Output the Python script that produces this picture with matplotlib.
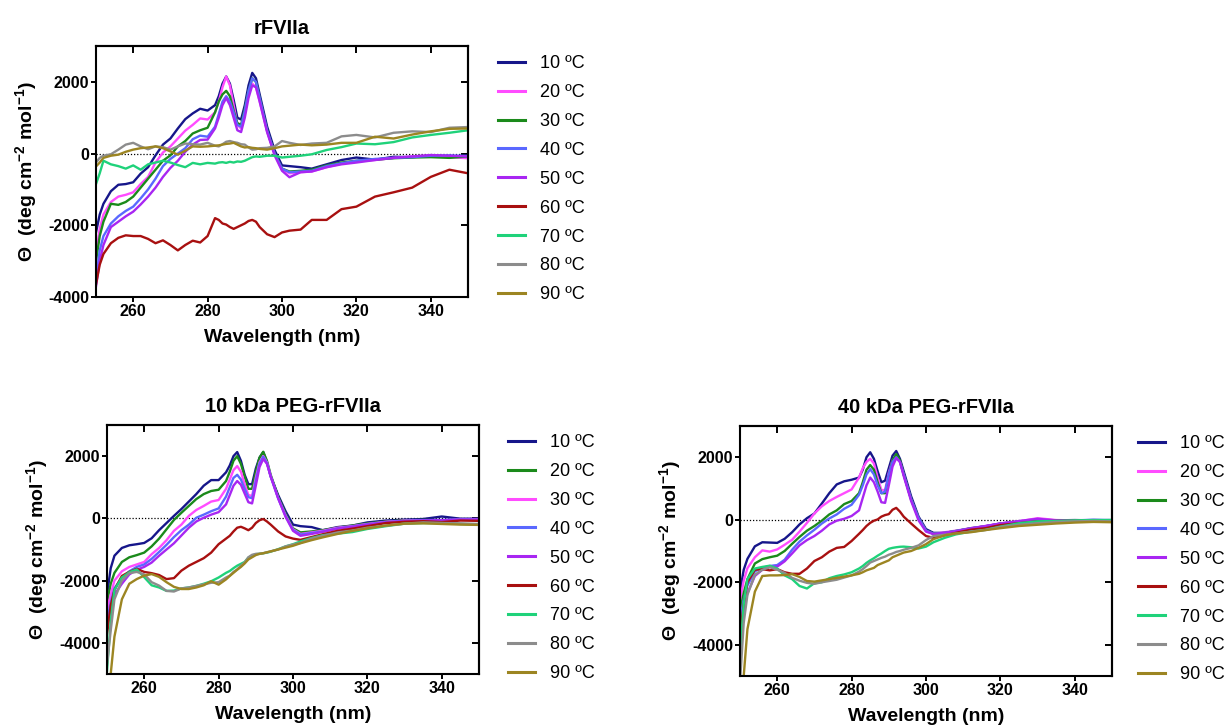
import matplotlib
matplotlib.use("Agg")
import matplotlib.pyplot as plt

plt.rcParams['font.family'] = ['Liberation Sans', 'DejaVu Sans']
plt.rcParams['mathtext.fontset'] = 'custom'
plt.rcParams['mathtext.rm'] = 'Liberation Sans'
plt.rcParams['mathtext.bf'] = 'Liberation Sans:bold'
plt.rcParams['axes.unicode_minus'] = False

# --------------------
# Data
# --------------------
wl = [250, 251, 252, 254, 256, 258, 260, 262, 264, 266, 268, 270, 272, 274, 276, 278, 280, 282,
      283, 284, 285, 286, 287, 288, 289, 290, 291, 292, 293, 294, 296, 298, 300, 302, 305, 308,
      312, 316, 320, 325, 330, 335, 340, 345, 350]

temps = [10, 20, 30, 40, 50, 60, 70, 80, 90]

# rFVIIa
p1_10 = [-2200, -1700, -1400, -1050, -870, -850, -800, -560, -380, -50, 250, 420, 700, 960, 1120, 1250, 1200, 1350,
         1600, 1950, 2150, 1950, 1500, 1000, 950, 1350, 1900, 2250, 2100, 1650, 750, 100, -330, -350, -380, -420,
         -300, -180, -110, -170, -90, -100, -60, -90, -50]
p1_20 = [-2800, -2100, -1700, -1350, -1200, -1150, -1080, -850, -650, -250, 30, 200, 420, 640, 800, 980, 950, 1150,
         1450, 1850, 2150, 1900, 1350, 800, 700, 1150, 1650, 1950, 1850, 1450, 600, 0, -450, -550, -520, -500,
         -380, -280, -220, -180, -120, -80, -60, -100, -130]
p1_30 = [-3000, -2300, -1900, -1400, -1430, -1350, -1200, -950, -700, -450, -200, -50, 200, 350, 560, 650, 720, 1150,
         1450, 1650, 1750, 1600, 1200, 850, 800, 1250, 1750, 2100, 2000, 1550, 650, 0, -420, -500, -480, -450,
         -330, -250, -200, -170, -130, -110, -100, -120, -80]
p1_40 = [-3500, -2700, -2300, -1950, -1750, -1600, -1480, -1250, -1000, -700, -350, -150, 0, 150, 400, 500, 470, 750,
         1100, 1450, 1600, 1450, 1150, 800, 750, 1200, 1750, 2100, 2000, 1550, 650, 0, -420, -520, -500, -480,
         -350, -270, -200, -150, -120, -100, -60, -50, -70]
p1_50 = [-3700, -3000, -2550, -2050, -1900, -1750, -1620, -1420, -1200, -950, -650, -400, -200, 50, 250, 380, 390, 700,
         1000, 1350, 1550, 1350, 1000, 650, 600, 1000, 1550, 1900, 1850, 1450, 600, -50, -480, -660, -520, -500,
         -380, -300, -250, -180, -120, -80, -40, -60, -80]
p1_60 = [-3650, -3100, -2800, -2500, -2350, -2280, -2300, -2300, -2380, -2500, -2420, -2550, -2700, -2550, -2430, -2480, -2300, -1800,
         -1850, -1950, -1980, -2050, -2100, -2050, -2000, -1950, -1880, -1850, -1900, -2050, -2250, -2330, -2200, -2150, -2120, -1850,
         -1850, -1550, -1480, -1200, -1080, -950, -650, -450, -550]
p1_70 = [-850, -550, -200, -300, -350, -420, -330, -450, -300, -250, -200, -250, -320, -380, -260, -300, -260, -280,
         -250, -240, -260, -230, -250, -220, -230, -200, -150, -100, -80, -90, -60, -60, -110, -90, -60, -20,
         100, 180, 280, 260, 320, 450, 520, 580, 650]
p1_80 = [-250, -120, -60, -20, 110, 250, 300, 200, 120, 200, 180, 110, 200, 280, 260, 250, 300, 220,
         200, 260, 330, 350, 320, 300, 260, 250, 170, 110, 120, 150, 160, 200, 350, 300, 240, 280,
         300, 480, 520, 450, 580, 620, 600, 720, 740]
p1_90 = [-360, -250, -120, -60, -30, 50, 110, 150, 170, 200, 150, 60, -30, 80, 200, 190, 200, 220,
         230, 250, 270, 280, 300, 250, 200, 170, 180, 160, 150, 130, 110, 150, 200, 220, 250, 230,
         250, 300, 300, 470, 420, 530, 620, 690, 700]

# 10 kDa PEG-rFVIIa
p2_10 = [-2450, -1600, -1200, -950, -865, -830, -790, -640, -380, -150, 80, 300, 540, 780, 1050, 1230, 1230, 1480,
         1700, 2000, 2130, 1850, 1400, 1100, 1100, 1600, 1950, 2130, 1800, 1350, 750, 230, -200, -250, -280, -380,
         -280, -230, -130, -70, -40, -20, 60, -10, -10]
p2_20 = [-2700, -2100, -1750, -1400, -1250, -1180, -1100, -900, -650, -350, -50, 180, 400, 620, 780, 880, 920, 1200,
         1500, 1850, 2000, 1750, 1350, 950, 950, 1500, 1950, 2140, 1850, 1400, 700, 150, -320, -450, -420, -380,
         -300, -230, -160, -100, -60, -50, -60, -40, -30]
p2_30 = [-2970, -2450, -2000, -1700, -1560, -1480, -1400, -1150, -950, -700, -400, -200, 80, 270, 400, 540, 590, 950,
         1250, 1550, 1680, 1500, 1100, 750, 720, 1300, 1800, 2000, 1800, 1350, 650, 100, -350, -500, -450, -400,
         -300, -250, -180, -110, -70, -60, -80, -30, -20]
p2_40 = [-3300, -2700, -2250, -1900, -1700, -1560, -1480, -1300, -1080, -850, -600, -380, -200, 20, 120, 230, 320, 700,
         1000, 1300, 1400, 1250, 950, 680, 650, 1200, 1750, 1980, 1780, 1350, 650, 80, -370, -520, -470, -420,
         -320, -260, -190, -120, -80, -60, -50, -30, -30]
p2_50 = [-3500, -2900, -2450, -2100, -1800, -1650, -1560, -1420, -1200, -1000, -800, -550, -300, -100, 20, 120, 200, 450,
         750, 1050, 1200, 1080, 800, 520, 480, 1050, 1650, 1910, 1750, 1350, 650, 50, -400, -560, -500, -430,
         -330, -270, -200, -130, -90, -70, -60, -40, -40]
p2_60 = [-3730, -2800, -2300, -1850, -1720, -1620, -1720, -1760, -1820, -1950, -1920, -1680, -1520, -1400, -1280, -1100, -830, -650,
         -560, -420, -300, -270, -320, -380, -300, -150, -60, -20, -100, -200, -420, -580, -650, -690, -600, -510,
         -400, -330, -250, -150, -110, -90, -120, -70, -80]
p2_70 = [-4900, -3300, -2300, -1900, -1730, -1640, -1890, -2150, -2220, -2330, -2320, -2250, -2220, -2170, -2100, -2020, -1900, -1750,
         -1690, -1600, -1520, -1460, -1400, -1260, -1200, -1150, -1140, -1120, -1100, -1070, -990, -900, -830, -740, -630, -540,
         -490, -440, -340, -250, -170, -150, -150, -180, -200]
p2_80 = [-4700, -3600, -2600, -2000, -1760, -1720, -1800, -2050, -2160, -2330, -2350, -2250, -2220, -2170, -2120, -2070, -2050, -1900,
         -1840, -1720, -1640, -1520, -1420, -1250, -1170, -1140, -1135, -1120, -1090, -1060, -1000, -900, -840, -790, -650, -560,
         -450, -390, -300, -230, -170, -130, -150, -160, -180]
p2_90 = [-6500, -5000, -3800, -2600, -2100, -1950, -1840, -1790, -1880, -2050, -2200, -2270, -2270, -2220, -2150, -2020, -2130, -1960,
         -1850, -1750, -1650, -1560, -1450, -1320, -1250, -1180, -1140, -1120, -1090, -1060, -1000, -940, -880, -800, -700, -610,
         -500, -400, -320, -230, -170, -160, -180, -200, -210]

# 40 kDa PEG-rFVIIa
p3_10 = [-2300, -1600, -1250, -850, -720, -730, -740, -610, -400, -150, 50, 200, 520, 850, 1130, 1230, 1280, 1350,
         1600, 2000, 2160, 1950, 1550, 1200, 1250, 1650, 2050, 2200, 1950, 1550, 750, 100, -300, -420, -420, -370,
         -270, -210, -120, -60, 0, -20, -10, -20, -30]
p3_20 = [-2600, -1950, -1550, -1200, -980, -1020, -950, -800, -640, -380, -100, 200, 430, 600, 730, 850, 970, 1350,
         1650, 1850, 1950, 1800, 1350, 950, 950, 1500, 1900, 2030, 1850, 1450, 650, 50, -350, -450, -400, -350,
         -270, -200, -120, -50, 50, -10, -20, -30, -20]
p3_30 = [-2920, -2350, -1900, -1400, -1260, -1200, -1150, -1000, -770, -550, -350, -200, -30, 170, 300, 500, 600, 850,
         1200, 1600, 1750, 1600, 1200, 850, 850, 1400, 1900, 2100, 1900, 1450, 650, 50, -350, -450, -420, -360,
         -280, -210, -130, -60, -20, -30, -30, -20, -10]
p3_40 = [-3240, -2550, -2100, -1650, -1540, -1480, -1450, -1280, -960, -700, -500, -320, -120, 40, 170, 350, 480, 800,
         1100, 1450, 1620, 1450, 1100, 850, 900, 1450, 1850, 2000, 1850, 1450, 650, 50, -350, -450, -420, -360,
         -280, -210, -130, -60, -30, -30, -20, 0, -10]
p3_50 = [-3570, -2900, -2350, -1800, -1600, -1510, -1500, -1330, -1080, -820, -650, -520, -350, -150, -30, 30, 120, 300,
         700, 1100, 1350, 1200, 900, 560, 540, 1100, 1700, 1970, 1850, 1400, 600, -20, -380, -460, -420, -370,
         -280, -200, -120, -40, 30, -20, -20, -10, -20]
p3_60 = [-3680, -2700, -2000, -1600, -1580, -1620, -1580, -1680, -1730, -1730, -1560, -1320, -1200, -1020, -900, -870, -680, -450,
         -330, -200, -100, -30, 10, 100, 150, 180, 320, 380, 260, 100, -120, -330, -520, -580, -500, -420,
         -320, -270, -170, -110, -50, -40, -30, -20, -30]
p3_70 = [-4320, -2700, -1900, -1560, -1510, -1470, -1560, -1780, -1900, -2120, -2200, -2030, -2000, -1870, -1800, -1750, -1680, -1560,
         -1480, -1380, -1300, -1230, -1150, -1080, -1000, -930, -900, -880, -865, -860, -880, -920, -860, -720, -580, -470,
         -380, -320, -220, -110, -50, -40, -20, -10, -10]
p3_80 = [-5200, -3300, -2400, -1760, -1600, -1520, -1600, -1700, -1860, -1950, -2020, -2050, -2000, -1960, -1920, -1850, -1780, -1660,
         -1580, -1480, -1370, -1320, -1270, -1220, -1180, -1120, -1080, -1030, -1000, -960, -900, -820, -650, -520, -480, -440,
         -380, -330, -230, -160, -110, -70, -50, -40, -50]
p3_90 = [-6500, -5000, -3500, -2300, -1800, -1780, -1780, -1770, -1740, -1830, -1960, -1980, -1940, -1900, -1860, -1820, -1780, -1730,
         -1680, -1620, -1580, -1540, -1450, -1400, -1350, -1300, -1200, -1150, -1100, -1050, -1000, -900, -780, -620, -500, -440,
         -400, -330, -270, -200, -160, -120, -90, -70, -80]

colors = {10: '#16168a', 20: '#ff4cff', 30: '#1b8a1b', 40: '#5a68ff', 50: '#a826f2',
          60: '#a81010', 70: '#1fd27a', 80: '#8c8c8c', 90: '#9c8522'}
# legend order in panel 2 is 10, 20(green), 30(magenta) ... -> colours swapped there
p2_colors = dict(colors)
p2_colors[20] = '#1b8a1b'
p2_colors[30] = '#ff4cff'

panels = [
    ("rFVIIa", [p1_10, p1_20, p1_30, p1_40, p1_50, p1_60, p1_70, p1_80, p1_90], (-4000, 3000)),
    ("10 kDa PEG-rFVIIa", [p2_10, p2_20, p2_30, p2_40, p2_50, p2_60, p2_70, p2_80, p2_90], (-5000, 3000)),
    ("40 kDa PEG-rFVIIa", [p3_10, p3_20, p3_30, p3_40, p3_50, p3_60, p3_70, p3_80, p3_90], (-5000, 3000)),
]
xticks = [260, 280, 300, 320, 340]
yticks = [-4000, -2000, 0, 2000]

W, H = 1228, 727
fig = plt.figure(figsize=(W / 100, H / 100), dpi=100)

# axes boxes in pixels: left, top, right, bottom
boxes = [(96, 46, 468, 297), (107, 425, 479, 674), (740, 426, 1112, 676)]
legend_pos = [(498, 55), (508, 434), (1138, 435)]

def fbox(b):
    l, t, r, bt = b
    return [l / W, 1 - bt / H, (r - l) / W, (bt - t) / H]

for i, (title, series, ylim) in enumerate(panels):
    ax = fig.add_axes(fbox(boxes[i]))
    cmap = p2_colors if i == 1 else colors
    ax.axhline(0, color='black', lw=0.9, ls=(0, (1, 1.5)), zorder=1)
    for t, ys in zip(temps, series):
        ax.plot(wl, ys, color=cmap[t], lw=1.7, label=f"{t} ºC", zorder=2)
    ax.set_xlim(250, 350)
    ax.set_ylim(*ylim)
    ax.set_xticks(xticks)
    ax.set_yticks(yticks)
    # left/bottom ticks outward, mirrored ticks on top/right point inward
    ax.tick_params(direction='out', length=3.5, width=1.4, top=False, right=False,
                   labelsize=11.5, pad=1.5)
    for lab in ax.get_xticklabels() + ax.get_yticklabels():
        lab.set_fontweight('bold')
    for s in ax.spines.values():
        s.set_linewidth(1.5)
    top = ax.secondary_xaxis('top')
    top.set_xticks(xticks)
    top.tick_params(direction='in', length=5, width=1.4, labeltop=False)
    top.spines['top'].set_linewidth(1.5)
    right = ax.secondary_yaxis('right')
    right.set_yticks(yticks)
    right.tick_params(direction='in', length=5, width=1.4, labelright=False)
    right.spines['right'].set_linewidth(1.5)

    ax.set_title(title, fontsize=14.5, fontweight='bold', pad=9)
    ax.set_xlabel("Wavelength (nm)", fontsize=14, fontweight='bold', labelpad=7)
    ax.set_ylabel("Θ  (deg cm$^{\\mathbf{-2}}$ mol$^{\\mathbf{-1}}$)", fontsize=14,
                  fontweight='bold', labelpad=6)
    lx, ly = legend_pos[i]
    ax.legend(loc='upper left', bbox_to_anchor=(lx / W, 1 - ly / H),
              bbox_transform=fig.transFigure, frameon=False, fontsize=13,
              handlelength=1.5, handletextpad=0.8, labelspacing=0.66,
              borderpad=0, borderaxespad=0)
    for line in ax.get_legend().get_lines():
        line.set_linewidth(2.2)

fig.savefig("out.png", dpi=100)
